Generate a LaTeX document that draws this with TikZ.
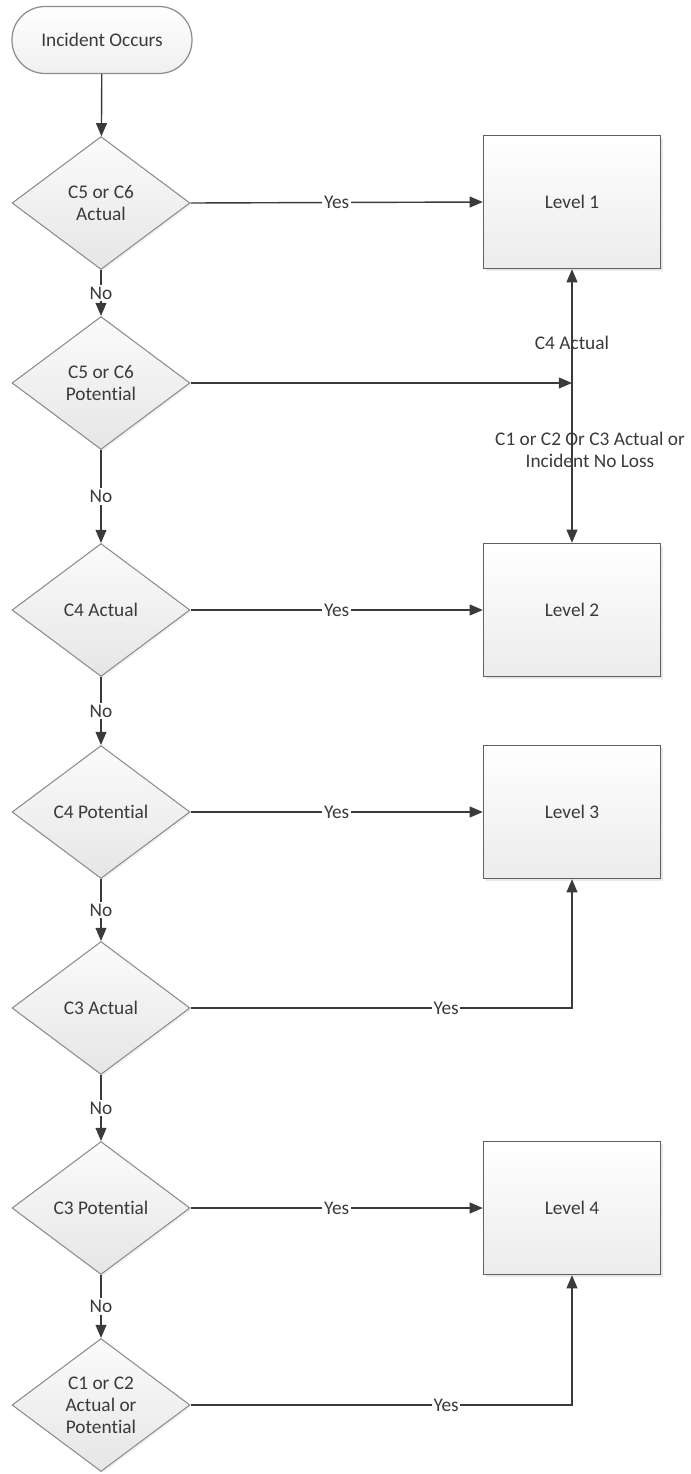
\documentclass[tikz,border=0pt]{standalone}
\usepackage{fontspec}
\setmainfont{Carlito}[Ligatures=NoCommon]
\usetikzlibrary{shapes.geometric,arrows.meta,shadows}
\definecolor{inkgray}{HTML}{3A3A3A}
\definecolor{rimgray}{HTML}{8C8C8C}
\tikzset{
  terminal/.style={rectangle, rounded corners=0.66cm, draw=rimgray, line width=0.7pt,
    top color=white, bottom color=gray!12, minimum width=3.6cm, minimum height=1.34cm,
    text=inkgray},
  decision/.style={diamond, draw=rimgray, line width=0.6pt, top color=white!97!gray,
    bottom color=gray!20, minimum width=3.56cm, minimum height=2.66cm, aspect=1.34,
    inner sep=0pt, align=center, text=inkgray,
    drop shadow={shadow xshift=1pt, shadow yshift=-1pt, fill=gray!20}},
  levelbox/.style={rectangle, draw=gray!75!black, line width=0.8pt, top color=white,
    bottom color=gray!15, minimum width=3.54cm, minimum height=2.66cm, text=inkgray,
    drop shadow={shadow xshift=1.2pt, shadow yshift=-1.2pt, fill=gray!35}},
  flow/.style={draw=inkgray, line width=0.8pt},
  lbl/.style={fill=white, inner sep=1pt, text=inkgray},
  tag/.style={inner sep=1pt, text=inkgray, align=center}
}
\begin{document}
\begin{tikzpicture}[x=0.02cm, y=-0.02cm, >={Triangle[length=7.5pt,width=6.2pt]}, font=\fontsize{11}{12.4}\selectfont]
	\useasboundingbox (0,0) rectangle (690,1474);
	% start and decisions
	\node[terminal] (start) at (102,40) {Incident Occurs};
	\node[decision] (c56a) at (101,203) {C5 or C6\\Actual};
	\node[decision] (c56p) at (101,383) {C5 or C6\\Potential};
	\node[decision] (c4a) at (101,610) {C4 Actual};
	\node[decision] (c4p) at (101,812) {C4 Potential};
	\node[decision] (c3a) at (101,1008) {C3 Actual};
	\node[decision] (c3p) at (101,1208) {C3 Potential};
	\node[decision] (c12) at (101,1405) {C1 or C2\\Actual or\\Potential};
	% levels
	\node[levelbox] (lv1) at (572,202) {Level 1};
	\node[levelbox] (lv2) at (572,610) {Level 2};
	\node[levelbox] (lv3) at (572,812) {Level 3};
	\node[levelbox] (lv4) at (572,1208) {Level 4};
	\coordinate (meet) at (lv1.south |- c56p.east);
	% down the No branch
	\draw[flow,->] (start)--(c56a);
	\draw[flow,->] (c56a)--node[lbl]{No}(c56p);
	\draw[flow,->] (c56p)--node[lbl]{No}(c4a);
	\draw[flow,->] (c4a)--node[lbl]{No}(c4p);
	\draw[flow,->] (c4p)--node[lbl]{No}(c3a);
	\draw[flow,->] (c3a)--node[lbl]{No}(c3p);
	\draw[flow,->] (c3p)--node[lbl]{No}(c12);
	% Yes branches
	\draw[flow,->] (c56a.east)--node[lbl]{Yes}(lv1.west);
	\draw[flow,->] (c56p.east)--(meet);
	\draw[flow,<->] (lv2.north)--node[tag,pos=0.73]{C4 Actual}
		node[tag,pos=0.34,xshift=0.36cm]{C1 or C2 Or C3 Actual or\\Incident No Loss}(lv1.south);
	\draw[flow,->] (c4a.east)--node[lbl]{Yes}(lv2.west);
	\draw[flow,->] (c4p.east)--node[lbl]{Yes}(lv3.west);
	\draw[flow,->] (c3a.east)--node[lbl,pos=0.67]{Yes}(c3a.east -| lv3.south)--(lv3.south);
	\draw[flow,->] (c3p.east)--node[lbl]{Yes}(lv4.west);
	\draw[flow,->] (c12.east)--node[lbl,pos=0.67]{Yes}(c12.east -| lv4.south)--(lv4.south);
\end{tikzpicture}
\end{document}
